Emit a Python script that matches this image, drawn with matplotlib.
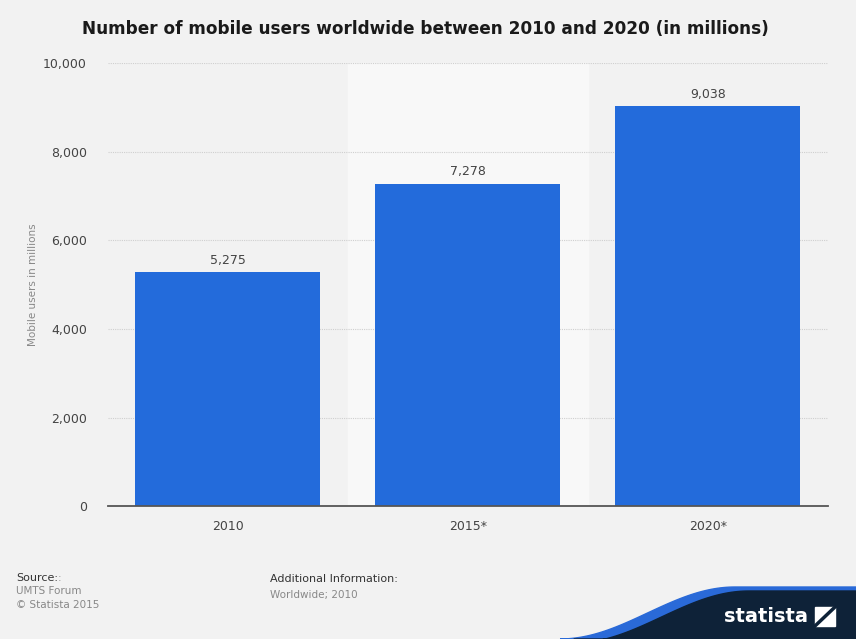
import numpy as np
import matplotlib
matplotlib.use('Agg')
import matplotlib.pyplot as plt
from matplotlib.patches import Polygon, Rectangle

# Chart data
years = ['2010', '2015*', '2020*']
users = [5275, 7278, 9038]
y_ticks = [0, 2000, 4000, 6000, 8000, 10000]

bg = '#f2f2f2'
bar_color = '#236bdb'

fig = plt.figure(figsize=(8.56, 6.39), dpi=100, facecolor=bg)
ax = fig.add_axes([0.126, 0.208, 0.841, 0.693], facecolor=bg)

x = np.arange(len(years))

# lighter band behind the middle category
ax.axvspan(0.5, 1.5, color='#f8f8f8', zorder=0)

bars = ax.bar(x, users, width=0.77, color=bar_color, zorder=3)
for xi, v in zip(x, users):
    ax.text(xi, v + 120, f'{v:,}', ha='center', va='bottom', fontsize=9, color='#444444', zorder=4)

ax.set_xlim(-0.5, 2.5)
ax.set_ylim(0, 10000)
ax.set_yticks(y_ticks)
ax.set_yticklabels([f'{t:,}' for t in y_ticks])
ax.set_xticks(x)
ax.set_xticklabels(years)
ax.tick_params(axis='both', length=0, labelsize=9, colors='#444444')
ax.tick_params(axis='y', pad=15)
ax.tick_params(axis='x', pad=10)

ax.yaxis.grid(True, color='#cfcfcf', linestyle=(0, (1, 1)), linewidth=0.8, zorder=1)
for s in ['top', 'right', 'left']:
    ax.spines[s].set_visible(False)
ax.spines['bottom'].set_color('#555555')
ax.spines['bottom'].set_linewidth(1.3)
ax.spines['bottom'].set_zorder(5)

ax.set_ylabel('Mobile users in millions', fontsize=7.5, color='#888888', labelpad=4)

fig.text(0.497, 0.955, 'Number of mobile users worldwide between 2010 and 2020 (in millions)',
         ha='center', va='center', fontsize=12.2, fontweight='bold', color='#1a1a1a')

# footer text
fig.text(0.019, 0.096, 'Source:', fontsize=8, color='#333333', ha='left', va='center')
fig.text(0.0675, 0.096, ':', fontsize=8, color='#999999', ha='left', va='center')
fig.text(0.019, 0.075, 'UMTS Forum', fontsize=7.5, color='#888888', ha='left', va='center')
fig.text(0.019, 0.053, '\u00a9 Statista 2015', fontsize=7.5, color='#888888', ha='left', va='center')
fig.text(0.316, 0.094, 'Additional Information:', fontsize=8, color='#333333', ha='left', va='center')
fig.text(0.316, 0.069, 'Worldwide; 2010', fontsize=7.5, color='#888888', ha='left', va='center')

# statista logo with curved band
ov = fig.add_axes([0, 0, 1, 1], facecolor='none')
ov.set_xlim(0, 856)
ov.set_ylim(639, 0)
ov.axis('off')
t = np.linspace(0, 1, 60)
cx = 560 + (735 - 560) * t
cy = 639 - (639 - 587) * (0.5 - 0.5 * np.cos(np.pi * t))
top_x = np.concatenate([cx, [856]])
top_y = np.concatenate([cy, [587]])
blue_pts = np.column_stack([np.concatenate([top_x, [856, 560]]), np.concatenate([top_y, [639, 639]])])
ov.add_patch(Polygon(blue_pts, closed=True, color='#2a6ad8', zorder=1))
navy_pts = np.column_stack([np.concatenate([top_x + 14, [870, 574]]), np.concatenate([top_y + 4, [639, 639]])])
ov.add_patch(Polygon(navy_pts, closed=True, color='#0e2238', zorder=2))
ov.text(766, 617, 'statista', fontsize=14, fontweight='bold', color='white', ha='center', va='center', zorder=3)
ov.add_patch(Rectangle((815, 607), 20, 19, color='white', zorder=3))
ov.plot([815, 835], [626, 607], color='#0e2238', lw=2.5, zorder=4)

fig.savefig('out.png', dpi=100, facecolor=bg)
